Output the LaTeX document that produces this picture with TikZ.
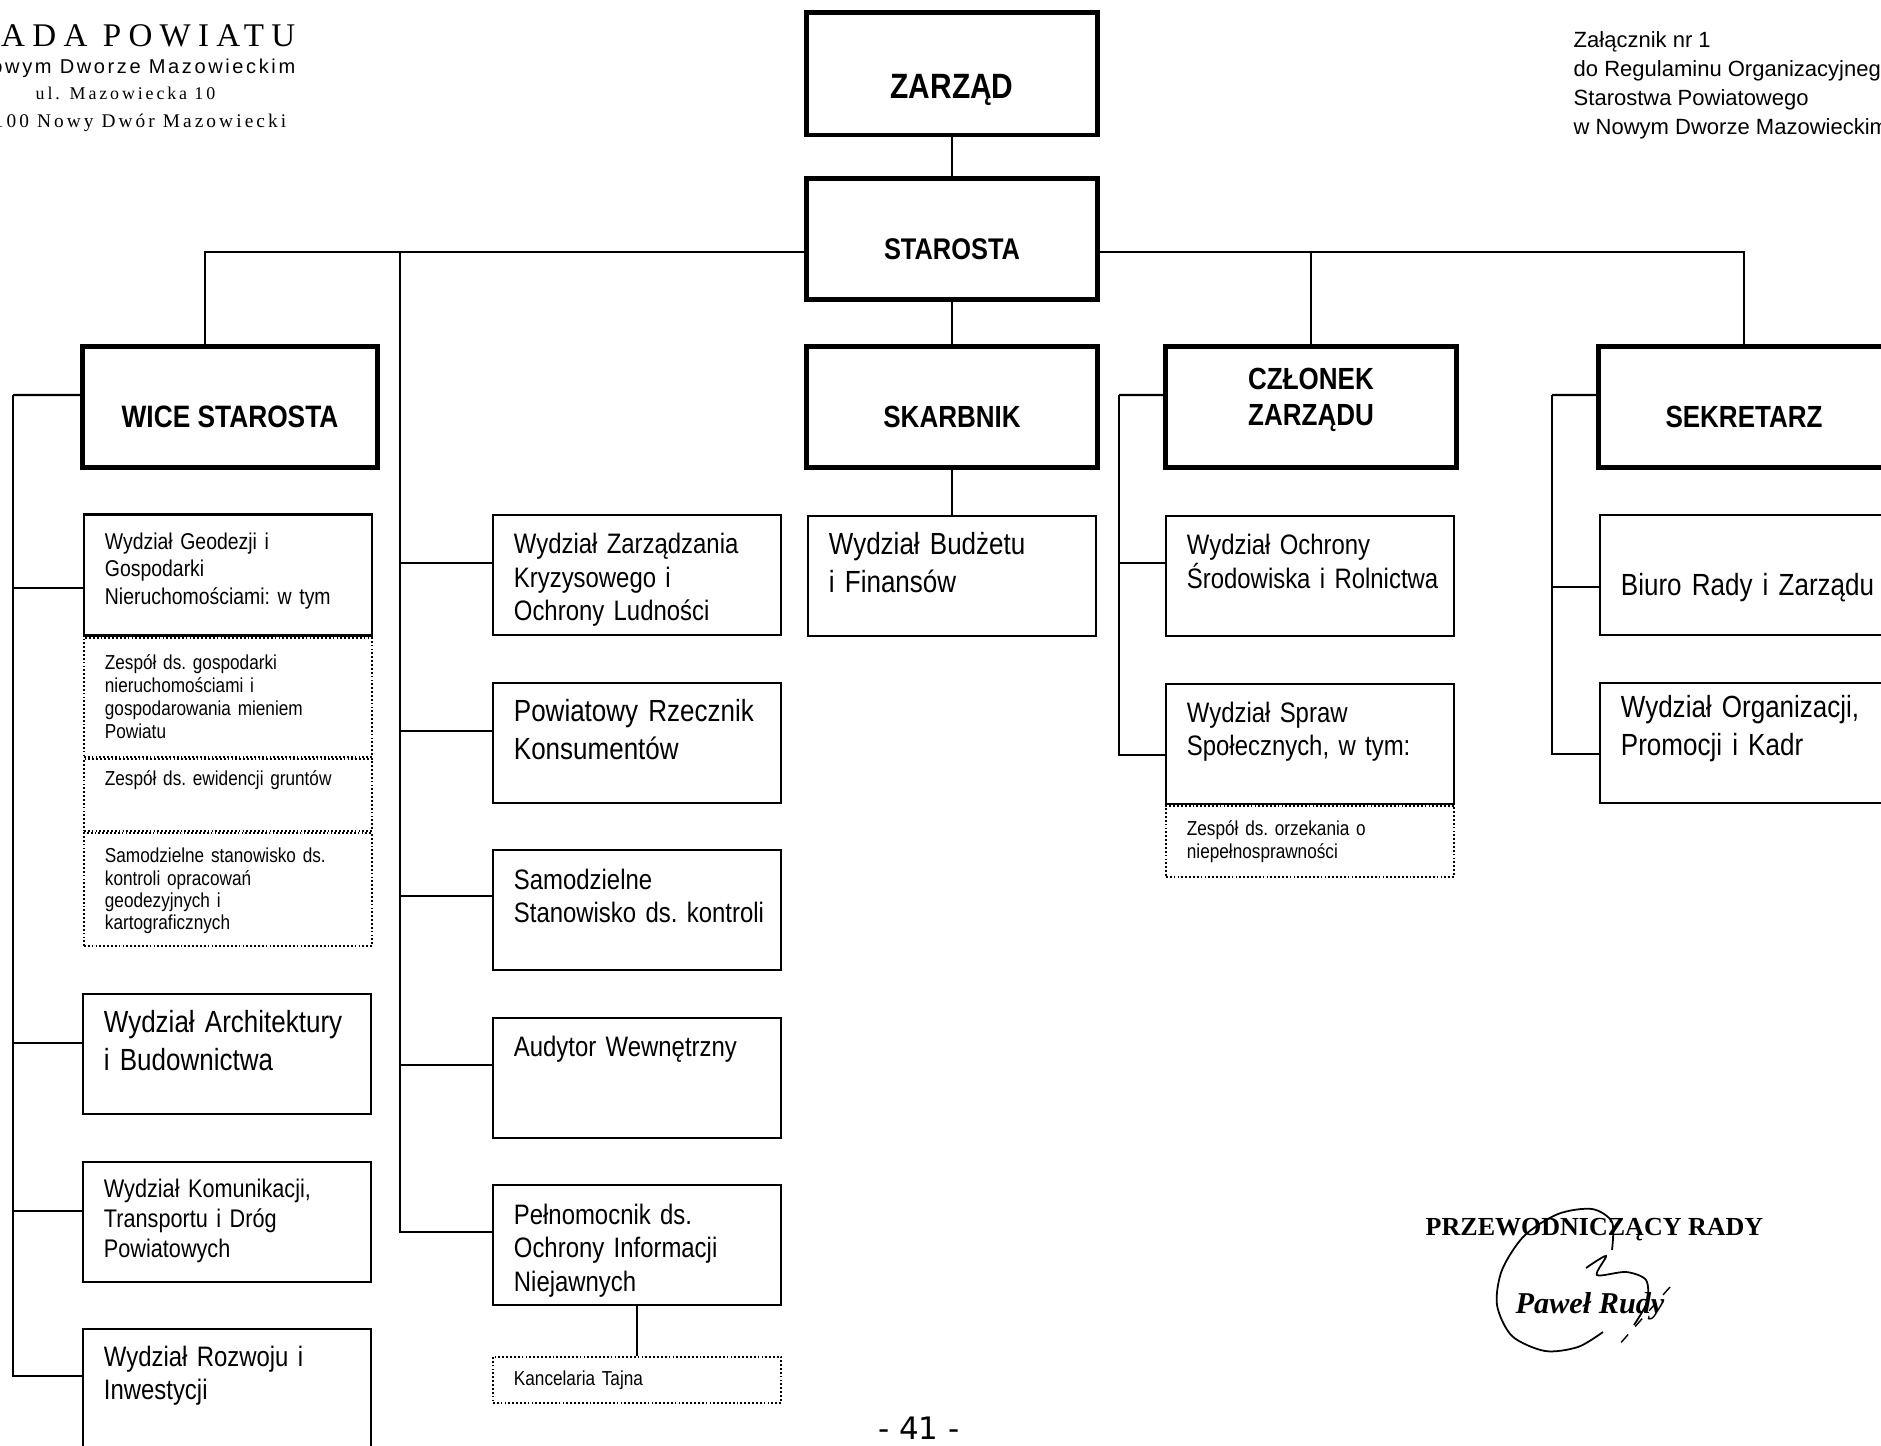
\documentclass[tikz,border=0pt]{standalone}
\usepackage{fontspec}
\usetikzlibrary{positioning}

\newfontfamily\narrowsans[FakeStretch=0.85]{Liberation Sans}
\newfontfamily\plainsans{Liberation Sans}
\newfontfamily\seriffont{Liberation Serif}
\newfontfamily\wideserif[LetterSpace=22]{Liberation Serif}
\newfontfamily\spacedserif[LetterSpace=16]{Liberation Serif}
\newfontfamily\spacedsans[LetterSpace=13]{Liberation Sans}
\newfontfamily\pagefont{DejaVu Sans}

\begin{document}
\begin{tikzpicture}[x=0.01cm, y=-0.01cm, node distance=1.675cm,
  head/.style = {draw, line width=1.4pt, minimum width=2.9cm, minimum height=1.21cm,
    text height=0.4cm, text depth=0pt, font=\narrowsans\bfseries\fontsize{8.7pt}{10.2pt}\selectfont},
  unit/.style = {draw, line width=0.6pt, text width=2.46cm, inner xsep=0.21cm, inner ysep=0pt,
    align=left, text height=0.39cm, text depth=0.81cm, font=\narrowsans\fontsize{8pt}{9.5pt}\selectfont,
    execute at begin node={\frenchspacing\hyphenpenalty=10000\relax}},
  big/.style = {font=\narrowsans\fontsize{8.7pt}{10.8pt}\selectfont},
  team/.style = {unit, dash pattern=on 0.5pt off 0.6pt, font=\narrowsans\fontsize{5.75pt}{6.5pt}\selectfont},
  link/.style = {line width=0.6pt},
  txt/.style = {inner sep=0pt}]

\useasboundingbox (0,0) rectangle (1881,1446);
\clip (0,0) rectangle (1881,1446);
\fill[white] (0,0) rectangle (1881,1446);

% headers
\node[txt, anchor=base east, font=\wideserif\fontsize{9.4pt}{11pt}\selectfont] (rada) at (296,47) {RADA POWIATU};
\node[txt, anchor=base east, font=\spacedsans\fontsize{5.7pt}{6pt}\selectfont] (miasto) at (296,74) {w Nowym Dworze Mazowieckim};
\node[txt, anchor=base east, font=\spacedserif\fontsize{5.1pt}{6pt}\selectfont] (ulica) at (216,100) {ul. Mazowiecka 10};
\node[txt, anchor=base east, font=\spacedserif\fontsize{5.5pt}{6pt}\selectfont] (adres) at (287,128) {05-100 Nowy Dwór Mazowiecki};

\node[txt, anchor=base west, font=\plainsans\fontsize{6.26pt}{7pt}\selectfont] (zal1) at (1573,48) {Załącznik nr 1};
\node[txt, anchor=base west, font=\plainsans\fontsize{6.26pt}{7pt}\selectfont] (zal2) at (1573,77) {do Regulaminu Organizacyjnego};
\node[txt, anchor=base west, font=\plainsans\fontsize{6.26pt}{7pt}\selectfont] (zal3) at (1573,106) {Starostwa Powiatowego};
\node[txt, anchor=base west, font=\plainsans\fontsize{6.26pt}{7pt}\selectfont] (zal4) at (1573,135) {w Nowym Dworze Mazowieckim};

% top of the chart
\node[head, text height=0.49cm, minimum height=1.22cm,
  font=\narrowsans\bfseries\fontsize{10pt}{12pt}\selectfont] (zarzad) at (952,74) {ZARZĄD};
\node[head, font=\narrowsans\bfseries\fontsize{8.5pt}{10pt}\selectfont] (starosta) at (952,239) {STAROSTA};

\node[head, minimum width=2.94cm, font=\narrowsans\bfseries\fontsize{8.8pt}{10pt}\selectfont] (wice) at (230,407) {WICE STAROSTA};
\node[head] (skarbnik) at (952,407) {SKARBNIK};
\node[head, text width=2.5cm, align=center, text height=0.25cm, text depth=0.6cm] (czlonek) at (1311,407) {CZŁONEK\\ZARZĄDU};
\node[head] (sekretarz) at (1744,407) {SEKRETARZ};

% wice starosta
\node[unit, font=\narrowsans\fontsize{6.5pt}{7.8pt}\selectfont, text height=0.35cm, text depth=0.86cm] (geo) at (228,575) {Wydział Geodezji i\\Gospodarki\\Nieruchomościami: w tym};
\node[team, text height=0.32cm, text depth=0.87cm] (geoA) [below=0pt of geo] {Zespół ds. gospodarki\\nieruchomościami i\\gospodarowania mieniem\\Powiatu};
\node[team, text height=0.27cm, text depth=0.45cm] (geoB) [below=0pt of geoA] {Zespół ds. ewidencji gruntów};
\node[team, font=\narrowsans\fontsize{5.75pt}{6.3pt}\selectfont, text height=0.30cm, text depth=0.83cm] (geoC) [below=0pt of geoB] {Samodzielne stanowisko ds.\\kontroli opracowań\\geodezyjnych i\\kartograficznych};
\node[unit, big] (arch) at (227,1054) {Wydział Architektury\\i Budownictwa};
\node[unit, font=\narrowsans\fontsize{7.25pt}{8.5pt}\selectfont, text height=0.36cm, text depth=0.84cm] (komun) [below of=arch] {Wydział Komunikacji,\\Transportu i Dróg\\Powiatowych};
\node[unit, text height=0.37cm, text depth=0.83cm] (rozwoj) [below of=komun] {Wydział Rozwoju i\\Inwestycji};

% starosta
\node[unit] (kryz) at (637,575) {Wydział Zarządzania\\Kryzysowego i\\Ochrony Ludności};
\node[unit, big] (rzecznik) [below of=kryz] {Powiatowy Rzecznik\\Konsumentów};
\node[unit] (kontrola) [below of=rzecznik] {Samodzielne\\Stanowisko~ds.~kontroli};
\node[unit] (audytor) [below of=kontrola] {Audytor Wewnętrzny};
\node[unit] (pelnomocnik) [below of=audytor] {Pełnomocnik ds.\\Ochrony Informacji\\Niejawnych};
\node[team, text height=0.29cm, text depth=0.17cm] (kancelaria) [below=0.49cm of pelnomocnik] {Kancelaria Tajna};

% skarbnik
\node[unit, big] (budzet) at (952,576) {Wydział Budżetu\\i Finansów};

% czlonek zarzadu
\node[unit] (ochrona) at (1310,576) {Wydział Ochrony\\Środowiska~i~Rolnictwa};
\node[unit] (sprawy) [below of=ochrona] {Wydział Spraw\\Społecznych, w tym:};
\node[team, text height=0.30cm, text depth=0.41cm] (orzekanie) [below=0pt of sprawy] {Zespół ds. orzekania o\\niepełnosprawności};

% sekretarz
\node[unit, big, text height=0.80cm, text depth=0.40cm] (biuro) at (1744,575) {Biuro~Rady~i~Zarządu};
\node[unit, big, text height=0.35cm, text depth=0.85cm] (organizacja) [below of=biuro] {Wydział Organizacji,\\Promocji i Kadr};

% lines
\coordinate (bar) at (952,252);
\coordinate (lspine) at (13,395);
\coordinate (mspine) at (400,252);
\coordinate (cspine) at (1119,395);
\coordinate (rspine) at (1552,395);

\draw[link] (zarzad) -- (starosta);
\draw[link] (starosta.west |- bar) -| ([xshift=-0.25cm]wice.north);
\draw[link] (starosta.east |- bar) -| (sekretarz.north);
\draw[link] (czlonek.north |- bar) -- (czlonek.north);
\draw[link] (starosta) -- (skarbnik);
\draw[link] (skarbnik) -- (budzet);

\draw[link] ([yshift=0.12cm]wice.west) -- (lspine);
\draw[link] ([yshift=-0.13cm]geo.west) -| (lspine);
\draw[link] ([yshift=0.11cm]arch.west) -| (lspine);
\draw[link] ([yshift=0.11cm]komun.west) -| (lspine);
\draw[link] ([yshift=0.13cm]rozwoj.west) -| (lspine);

\draw[link] ([yshift=0.12cm]kryz.west) -| (mspine);
\draw[link] ([yshift=0.12cm]rzecznik.west) -| (mspine);
\draw[link] ([yshift=0.14cm]kontrola.west) -| (mspine);
\draw[link] ([yshift=0.13cm]audytor.west) -| (mspine);
\draw[link] ([yshift=0.13cm]pelnomocnik.west) -| (mspine);
\draw[link] (pelnomocnik) -- (kancelaria);

\draw[link] ([yshift=0.12cm]czlonek.west) -- (cspine);
\draw[link] ([yshift=0.13cm]ochrona.west) -| (cspine);
\draw[link] ([yshift=-0.11cm]sprawy.west) -| (cspine);

\draw[link] ([yshift=0.12cm]sekretarz.west) -- (rspine);
\draw[link] ([yshift=-0.12cm]biuro.west) -| (rspine);
\draw[link] ([yshift=-0.11cm]organizacja.west) -| (rspine);

% signature
\node[txt, anchor=base west, font=\seriffont\bfseries\fontsize{7.4pt}{8pt}\selectfont] (przew) at (1425,1235) {PRZEWODNICZĄCY RADY};
\node[txt, anchor=base west, font=\seriffont\bfseries\itshape\fontsize{8.6pt}{9pt}\selectfont] (rudy) at (1515,1313) {Paweł Rudy};
\draw[line width=0.5pt] plot[smooth] coordinates {(1612,1250) (1612,1222) (1592,1209) (1558,1214) (1524,1236) (1502,1270) (1497,1305) (1512,1336) (1545,1351) (1578,1347) (1603,1332)};
\draw[line width=0.5pt] plot[smooth] coordinates {(1586,1268) (1606,1256) (1597,1275) (1626,1272) (1646,1280) (1647,1302) (1634,1325)};
\draw[line width=0.4pt, dashed] (1670,1287) -- (1618,1346);

% page number
\node[txt, anchor=base, font=\pagefont\fontsize{8.8pt}{9pt}\selectfont] (strona) at (919,1439) {- 41 -};

\end{tikzpicture}
\end{document}
